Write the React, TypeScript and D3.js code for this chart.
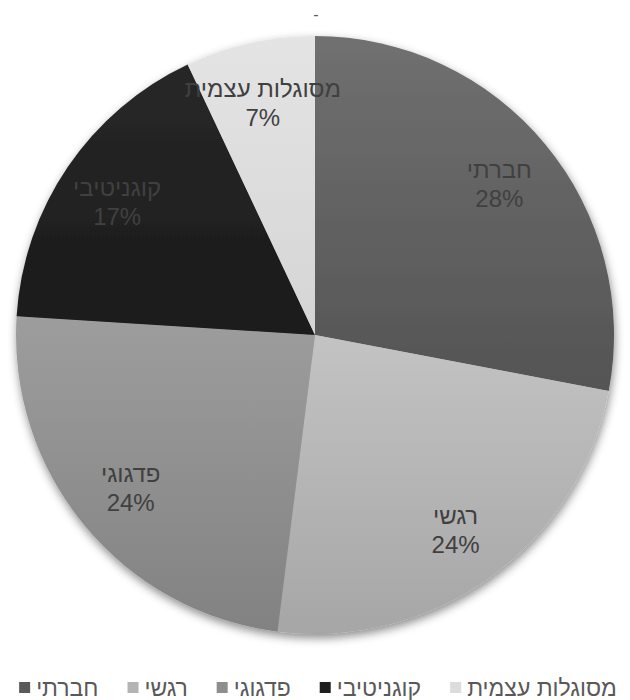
import React, { useEffect, useRef } from "react";
import * as d3 from "d3";

const categories = ["חברתי", "רגשי", "פדגוגי", "קוגניטיבי", "מסוגלות עצמית"];
const values = [28, 24, 24, 17, 7];
const topColors = ["#707070", "#c3c3c3", "#9d9d9d", "#282828", "#e4e4e4"];
const bottomColors = ["#545454", "#a6a6a6", "#828282", "#1a1a1a", "#d5d5d5"];
const legendColors = ["#5a5a5a", "#b4b4b4", "#8e8e8e", "#1f1f1f", "#dcdcdc"];
const titleText = "-";

const W = 630;
const H = 700;
const FONT = "'Liberation Sans', Arial, 'DejaVu Sans', sans-serif";

export default function App() {
  const ref = useRef<SVGSVGElement | null>(null);

  useEffect(() => {
    document.body.style.margin = "0";
    const svg = d3.select(ref.current);
    svg.selectAll("*").remove();

    const cx = 315;
    const cy = 335;
    const R = 299;

    const defs = svg.append("defs");
    const filter = defs
      .append("filter")
      .attr("id", "shadow")
      .attr("x", "-10%")
      .attr("y", "-10%")
      .attr("width", "120%")
      .attr("height", "120%");
    filter
      .append("feDropShadow")
      .attr("dx", 1)
      .attr("dy", 4)
      .attr("stdDeviation", 5)
      .attr("flood-color", "#000")
      .attr("flood-opacity", 0.45);

    categories.forEach((_, i) => {
      const g = defs
        .append("linearGradient")
        .attr("id", `grad${i}`)
        .attr("x1", 0)
        .attr("y1", 0)
        .attr("x2", 0)
        .attr("y2", 1);
      g.append("stop").attr("offset", "0%").attr("stop-color", topColors[i]);
      g.append("stop").attr("offset", "100%").attr("stop-color", bottomColors[i]);
    });

    svg
      .append("text")
      .attr("x", cx + 1)
      .attr("y", 20)
      .attr("text-anchor", "middle")
      .attr("font-family", FONT)
      .attr("font-size", 16)
      .attr("fill", "#595959")
      .text(titleText);

    const pie = d3
      .pie<number>()
      .sort(null)
      .value((d) => d);
    const arcs = pie(values);
    const total = d3.sum(values);

    const arc = d3.arc<d3.PieArcDatum<number>>().innerRadius(0).outerRadius(R);
    const labelArc = d3
      .arc<d3.PieArcDatum<number>>()
      .innerRadius(R * 0.8)
      .outerRadius(R * 0.8);

    const g = svg.append("g").attr("transform", `translate(${cx},${cy})`);
    const pieG = g.append("g").attr("filter", "url(#shadow)");
    pieG
      .selectAll("path")
      .data(arcs)
      .join("path")
      .attr("d", arc as any)
      .attr("fill", (_, i) => `url(#grad${i})`)
      .attr("stroke", "none");

    const labels = g
      .selectAll("g.lbl")
      .data(arcs)
      .join("g")
      .attr("class", "lbl")
      .attr("transform", (d) => {
        const [x, y] = labelArc.centroid(d);
        return `translate(${x},${y})`;
      });
    labels
      .append("text")
      .attr("text-anchor", "middle")
      .attr("font-family", FONT)
      .attr("font-size", 24)
      .attr("fill", "#404040")
      .attr("y", -5)
      .text((_, i) => categories[i]);
    labels
      .append("text")
      .attr("text-anchor", "middle")
      .attr("font-family", FONT)
      .attr("font-size", 24)
      .attr("fill", "#404040")
      .attr("y", 24)
      .text((d) => `${Math.round((d.value / total) * 100)}%`);

    // legend
    const legend = svg.append("g");
    const sq = 11;
    const gapSqText = 6;
    const gapItems = 29;
    const items = legend
      .selectAll("g")
      .data(categories)
      .join("g");
    items
      .append("rect")
      .attr("width", sq)
      .attr("height", sq)
      .attr("y", -sq)
      .attr("fill", (_, i) => legendColors[i]);
    const texts = items
      .append("text")
      .attr("x", sq + gapSqText)
      .attr("y", 3)
      .attr("font-family", FONT)
      .attr("font-size", 23)
      .attr("fill", "#595959")
      .text((d) => d);
    const widths: number[] = [];
    texts.each(function () {
      widths.push((this as SVGTextElement).getComputedTextLength());
    });
    let x = 0;
    const offsets: number[] = [];
    widths.forEach((w) => {
      offsets.push(x);
      x += sq + gapSqText + w + gapItems;
    });
    const totalW = x - gapItems;
    const startX = cx + 3 - totalW / 2;
    items.attr("transform", (_, i) => `translate(${startX + offsets[i]},693)`);
  }, []);

  return <svg ref={ref} width={W} height={H} style={{ display: "block", background: "#fff" }} />;
}
